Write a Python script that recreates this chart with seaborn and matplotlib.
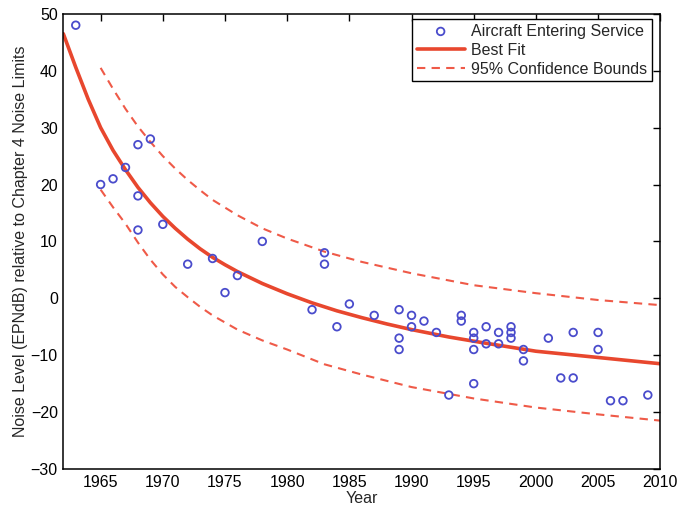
import matplotlib
matplotlib.use("Agg")
import matplotlib.pyplot as plt
import seaborn as sns
import pandas as pd

# Certification noise level of each aircraft type vs. year it entered service
years = [1963, 1965, 1966, 1967, 1968, 1968, 1968, 1969, 1970, 1972,
         1974, 1975, 1976, 1978, 1982, 1983, 1983, 1984, 1985, 1987,
         1989, 1989, 1989, 1990, 1990, 1991, 1992, 1993, 1994, 1994,
         1995, 1995, 1995, 1995, 1996, 1996, 1997, 1997, 1998, 1998,
         1998, 1999, 1999, 2001, 2002, 2003, 2003, 2005, 2005, 2006,
         2007, 2009]
noise = [48, 20, 21, 23, 27, 18, 12, 28, 13, 6,
         7, 1, 4, 10, -2, 8, 6, -5, -1, -3,
         -2, -7, -9, -3, -5, -4, -6, -17, -3, -4,
         -6, -7, -9, -15, -5, -8, -6, -8, -5, -6,
         -7, -9, -11, -7, -14, -6, -14, -6, -9, -18,
         -18, -17]

# Fitted trend
fit_years = [1962, 1963, 1964, 1965, 1966, 1967, 1968, 1969, 1970, 1971,
             1972, 1973, 1974, 1975, 1976, 1978, 1980, 1982, 1984, 1986,
             1988, 1990, 1993, 1996, 2000, 2005, 2010]
fit_vals = [46.5, 40.6, 35.0, 30.0, 26.0, 22.6, 19.5, 16.8, 14.4, 12.3,
            10.4, 8.7, 7.2, 5.9, 4.7, 2.6, 0.8, -0.8, -2.2, -3.4,
            -4.5, -5.5, -6.8, -7.9, -9.3, -10.4, -11.5]

# 95% confidence bounds of the fit
bound_years = [1965, 1966, 1967, 1968, 1969, 1970, 1971, 1972, 1973, 1974,
               1976, 1978, 1980, 1983, 1986, 1990, 1995, 2000, 2005, 2010]
upper_vals = [40.5, 36.8, 33.3, 30.2, 27.5, 25.0, 22.8, 20.8, 19.0, 17.3,
              14.6, 12.3, 10.5, 8.2, 6.4, 4.4, 2.3, 0.9, -0.3, -1.2]
lower_vals = [19.1, 16.0, 13.1, 9.8, 6.8, 4.2, 2.0, 0.2, -1.5, -3.0,
              -5.5, -7.4, -9.0, -11.6, -13.4, -15.6, -17.6, -19.2, -20.4, -21.5]

x_ticks = [1965, 1970, 1975, 1980, 1985, 1990, 1995, 2000, 2005, 2010]
y_ticks = [-30, -20, -10, 0, 10, 20, 30, 40, 50]

sns.set_theme(style="white")
plt.rcParams["font.family"] = ["Liberation Sans", "DejaVu Sans"]
plt.rcParams["axes.unicode_minus"] = True

fig = plt.figure(figsize=(6.83, 5.12), dpi=100)
ax = fig.add_axes([0.0927, 0.084, 0.874, 0.889])

pts = pd.DataFrame({"Year": years, "Noise": noise})
fit = pd.DataFrame({"Year": fit_years, "Noise": fit_vals})
bounds = pd.DataFrame({"Year": bound_years, "Upper": upper_vals, "Lower": lower_vals})

blue = "#4a4ccc"
red = "#e8472e"
red_dash = "#ef5a48"

sns.scatterplot(data=pts, x="Year", y="Noise", ax=ax, marker="o", s=30,
                facecolor="none", edgecolor=blue, linewidth=1.3,
                label="Aircraft Entering Service", zorder=3)
sns.lineplot(data=fit, x="Year", y="Noise", ax=ax, color=red, linewidth=2.6,
             label="Best Fit", zorder=2)
sns.lineplot(data=bounds, x="Year", y="Upper", ax=ax, color=red_dash, linewidth=1.5,
             linestyle=(0, (4, 3)), label="95% Confidence Bounds", zorder=2)
sns.lineplot(data=bounds, x="Year", y="Lower", ax=ax, color=red_dash, linewidth=1.5,
             linestyle=(0, (4, 3)), zorder=2)

ax.set_xlim(1962, 2010)
ax.set_ylim(-30, 50)
ax.set_xticks(x_ticks)
ax.set_yticks(y_ticks)
ax.tick_params(direction="in", length=5, width=1, top=True, right=True,
               labelsize=11.5, colors="black", pad=4)
for sp in ax.spines.values():
    sp.set_visible(True)
    sp.set_color("black")
    sp.set_linewidth(1.1)

ax.set_xlabel("Year", fontsize=11.5, labelpad=1)
ax.set_ylabel("Noise Level (EPNdB) relative to Chapter 4 Noise Limits",
              fontsize=11.5, labelpad=2)

handles, labels = ax.get_legend_handles_labels()
leg = ax.legend(handles, labels, loc="upper right", bbox_to_anchor=(0.986, 0.989),
                borderaxespad=0, fontsize=11.5, frameon=True, fancybox=False,
                edgecolor="black", framealpha=1, handlelength=3.0,
                handletextpad=0.4, labelspacing=0.25, borderpad=0.3)
leg.get_frame().set_linewidth(1.0)

fig.savefig("out.png", dpi=100, facecolor="white")
